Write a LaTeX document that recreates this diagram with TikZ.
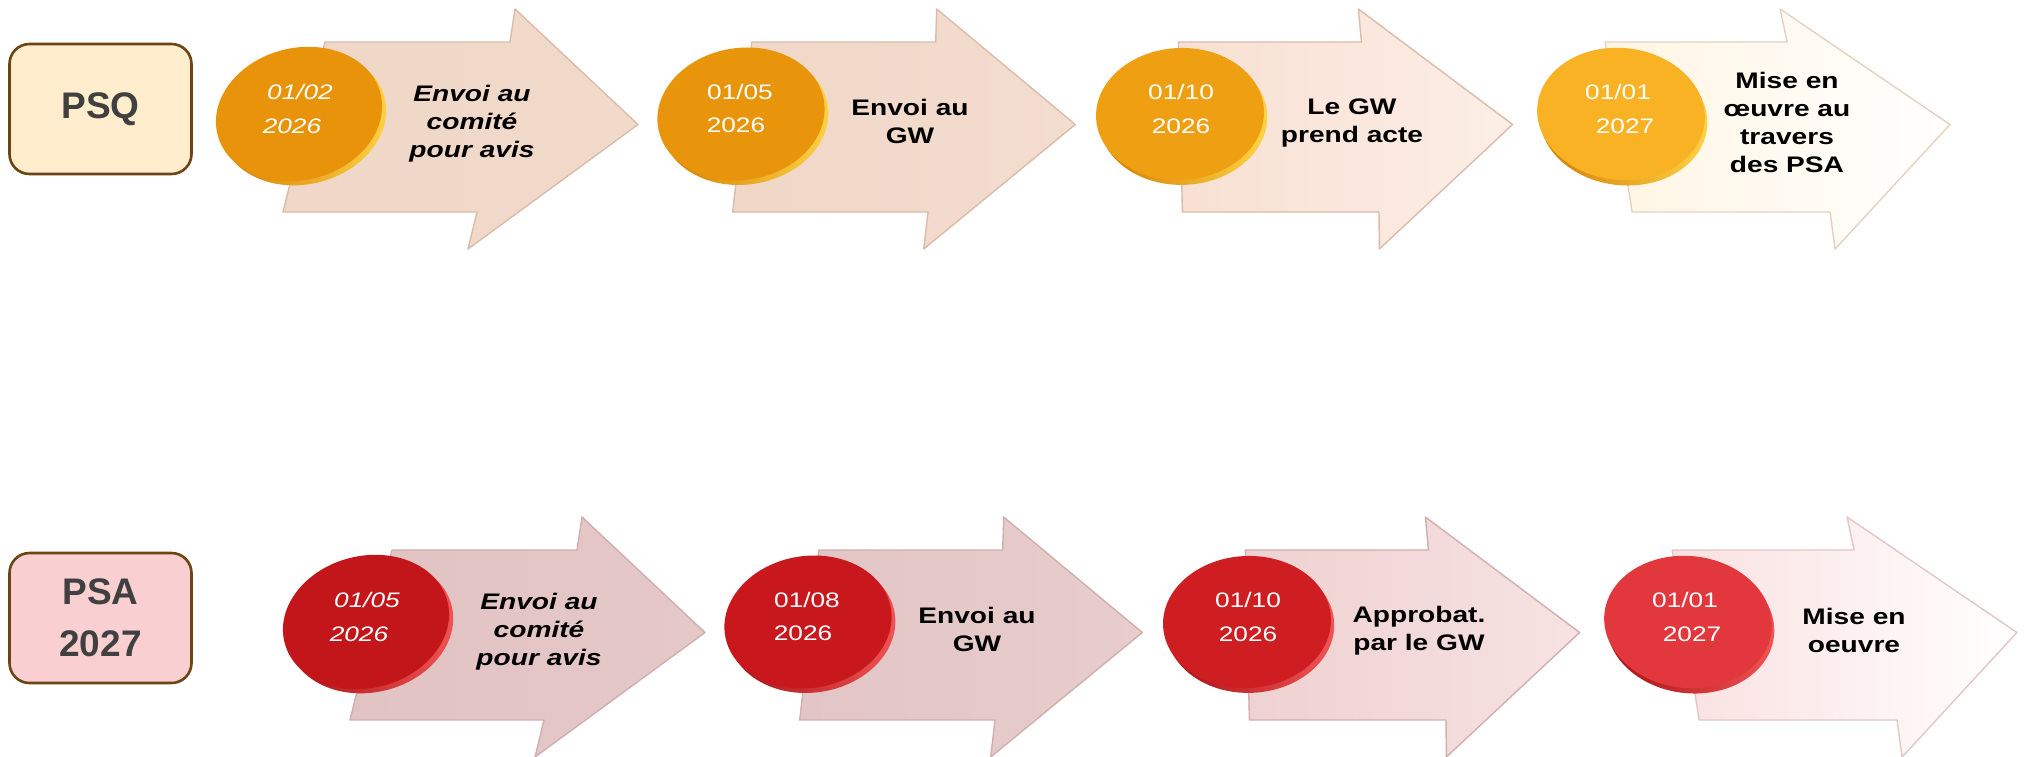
\documentclass[tikz,border=0pt]{standalone}
\usepackage{fontspec}
\setmainfont{Liberation Sans}
\newfontfamily\tlfont[FakeStretch=1.25]{Liberation Sans}
\definecolor{boxbrown}{HTML}{6B4513}
\definecolor{psqfill}{HTML}{FFEDCD}
\definecolor{psafill}{HTML}{F9CFD1}
\definecolor{boxtext}{HTML}{404040}
\definecolor{oa}{HTML}{E8930A}
\definecolor{ob}{HTML}{E8950B}
\definecolor{oc}{HTML}{EF9F12}
\definecolor{od}{HTML}{F8B223}
\definecolor{oedged}{HTML}{D27A00}
\definecolor{oedgel}{HTML}{FFD445}
\definecolor{ra}{HTML}{C3161B}
\definecolor{rb}{HTML}{C8181E}
\definecolor{rc}{HTML}{CE1E22}
\definecolor{rd}{HTML}{E2373C}
\definecolor{redged}{HTML}{A50E12}
\definecolor{redgel}{HTML}{F25555}
\definecolor{pa1}{HTML}{F0D7C7}
\definecolor{pa2}{HTML}{F1DACA}
\definecolor{pb1}{HTML}{F0D7C7}
\definecolor{pb2}{HTML}{F3DDCF}
\definecolor{pc1}{HTML}{F8E0D3}
\definecolor{pc2}{HTML}{FCEEE6}
\definecolor{pd1}{HTML}{FFF5E3}
\definecolor{pd2}{HTML}{FFFFFF}
\definecolor{pline}{HTML}{D9BCAA}
\definecolor{plinel}{HTML}{E3D2C2}
\definecolor{qa1}{HTML}{E2C3C3}
\definecolor{qa2}{HTML}{E5C8C8}
\definecolor{qb1}{HTML}{E3C5C5}
\definecolor{qb2}{HTML}{E8CDCD}
\definecolor{qc1}{HTML}{EFD1D1}
\definecolor{qc2}{HTML}{F7E2E2}
\definecolor{qd1}{HTML}{FAE0E0}
\definecolor{qd2}{HTML}{FFFFFF}
\definecolor{qline}{HTML}{CFAFAF}
\definecolor{qlinel}{HTML}{E0C8C8}
\newcommand\tlarrow[4]{%
  \pgfmathsetmacro\aT{638+437.3*#1}%
  \pgfmathsetmacro\aHt{515+421.7*#1}%
  \pgfmathsetmacro\aHb{468+455.7*#1}%
  \pgfmathsetmacro\aBt{510+425.7*#1}%
  \pgfmathsetmacro\aBb{477+451*#1}%
  \pgfmathsetmacro\aLt{325+426.7*#1}%
  \pgfmathsetmacro\aLb{283+449.7*#1}%
  \shadedraw[left color=#2, right color=#3, draw=#4, line width=1.4pt, line join=round]
    (\aLt,42) -- (\aBt,42) -- (\aHt,9) -- (\aT,124.5) -- (\aHb,249) -- (\aBb,212) -- (\aLb,212) -- cycle;
}
\newcommand\tlcoin[6]{%
  \shade[rotate around={#3:(#1,#2)}, left color=#5, right color=#6]
    (#1+3,#2+5) ellipse [x radius=84pt, y radius=66pt];
  \fill[#4, rotate around={#3:(#1,#2)}] (#1,#2) ellipse [x radius=84pt, y radius=66pt];
}
\begin{document}
\begin{tikzpicture}[x=1pt,y=-1pt,
  boxstyle/.style={draw=boxbrown, line width=2.6pt, rounded corners=20pt,
    minimum width=182pt, minimum height=130pt, text=boxtext, align=center,
    font=\bfseries\fontsize{37}{52}\selectfont},
  datetxt/.style={text=white, inner sep=0pt, font=\tlfont\fontsize{21}{25}\selectfont},
  dateit/.style={datetxt, font=\tlfont\itshape\fontsize{21}{25}\selectfont},
  lbl/.style={align=center, inner sep=0pt, text=black, font=\tlfont\bfseries\fontsize{22.5}{28}\selectfont},
  lblit/.style={lbl, font=\tlfont\bfseries\itshape\fontsize{22.5}{28}\selectfont}]
\useasboundingbox (0,0) rectangle (2027,756);
\fill[white] (0,0) rectangle (2027,756);
% label boxes
\node[boxstyle, fill=psqfill] (psq) at (100.5,109) {PSQ};
\node[boxstyle, fill=psafill] (psa) at (100.5,618) {PSA\\2027};
% ---------- row 1 ----------
\tlarrow{0}{pa1}{pa2}{pline}
\tlcoin{299}{114}{14}{oa}{oedged}{oedgel}
\tlarrow{1}{pb1}{pb2}{pline}
\tlcoin{741}{114}{9}{ob}{oedged}{oedgel}
\tlarrow{2}{pc1}{pc2}{pline}
\tlcoin{1180}{114}{3}{oc}{oedged}{oedgel}
\tlarrow{3}{pd1}{pd2}{plinel}
\tlcoin{1621}{114}{-6}{od}{oedged}{oedgel}
\node[dateit] (a1d) at (300,92) {01/02};
\node[dateit] (a1y) at (292,126) {2026};
\node[lblit] (a1l) at (472,124) {Envoi au\\comité\\pour avis};
\node[datetxt] (a2d) at (740,92) {01/05};
\node[datetxt] (a2y) at (736,125) {2026};
\node[lbl] (a2l) at (910,121) {Envoi au\\GW};
\node[datetxt] (a3d) at (1181,92) {01/10};
\node[datetxt] (a3y) at (1181,126) {2026};
\node[lbl] (a3l) at (1352,123) {Le GW\\prend acte};
\node[datetxt] (a4d) at (1618,92) {01/01};
\node[datetxt] (a4y) at (1625,126) {2027};
\node[lbl] (a4l) at (1787,122) {Mise en\\œuvre au\\travers\\des PSA};
% ---------- row 2 ----------
\begin{scope}[shift={(67,508)}]
\tlarrow{0}{qa1}{qa2}{qline}
\tlcoin{299}{114}{14}{ra}{redged}{redgel}
\tlarrow{1}{qb1}{qb2}{qline}
\tlcoin{741}{114}{9}{rb}{redged}{redgel}
\tlarrow{2}{qc1}{qc2}{qline}
\tlcoin{1180}{114}{3}{rc}{redged}{redgel}
\tlarrow{3}{qd1}{qd2}{qlinel}
\tlcoin{1621}{114}{-6}{rd}{redged}{redgel}
\node[dateit] (b1d) at (300,92) {01/05};
\node[dateit] (b1y) at (292,126) {2026};
\node[lblit] (b1l) at (472,124) {Envoi au\\comité\\pour avis};
\node[datetxt] (b2d) at (740,92) {01/08};
\node[datetxt] (b2y) at (736,125) {2026};
\node[lbl] (b2l) at (910,121) {Envoi au\\GW};
\node[datetxt] (b3d) at (1181,92) {01/10};
\node[datetxt] (b3y) at (1181,126) {2026};
\node[lbl] (b3l) at (1352,123) {Approbat.\\par le GW};
\node[datetxt] (b4d) at (1618,92) {01/01};
\node[datetxt] (b4y) at (1625,126) {2027};
\node[lbl] (b4l) at (1787,122) {Mise en\\oeuvre};
\end{scope}
\end{tikzpicture}
\end{document}
